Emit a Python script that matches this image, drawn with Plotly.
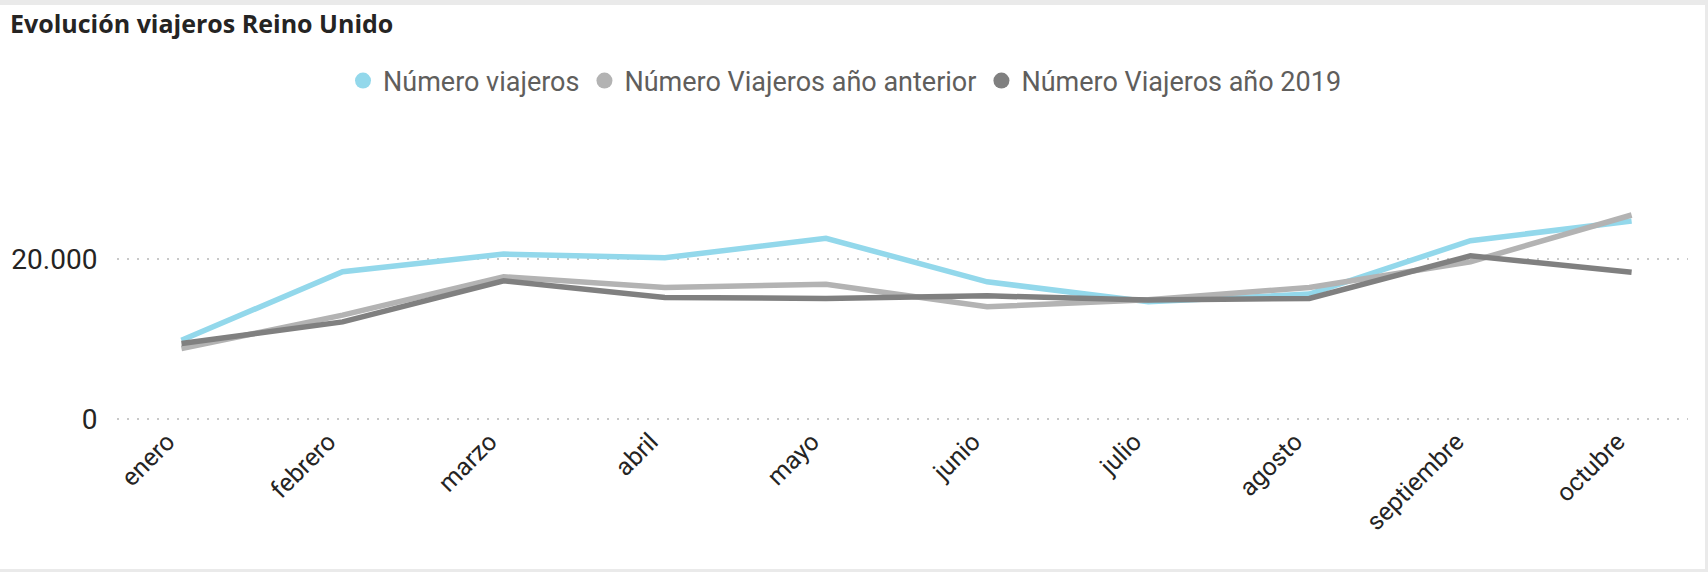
import plotly.graph_objects as go

months = ["enero", "febrero", "marzo", "abril", "mayo", "junio",
          "julio", "agosto", "septiembre", "octubre"]
viajeros = [9850, 18400, 20620, 20160, 22590, 17150, 14650, 15610, 22290, 24750]
viajeros_anterior = [8810, 12980, 17780, 16450, 16840, 14020, 14900, 16450, 19660, 25500]
viajeros_2019 = [9440, 12140, 17280, 15200, 15070, 15400, 14860, 15070, 20390, 18330]

series = [
    ("Número viajeros", viajeros, "#93D8EB"),
    ("Número Viajeros año anterior", viajeros_anterior, "#B3B3B3"),
    ("Número Viajeros año 2019", viajeros_2019, "#808080"),
]

W, H = 1708, 572
L, R, T, B = 117, 20, 181, 151

fig = go.Figure()
for name, vals, color in series:
    fig.add_trace(go.Scatter(
        x=months, y=vals, mode="lines", name=name,
        line=dict(color=color, width=5.5), showlegend=False,
    ))
# legend entries shown as circles
for name, vals, color in series:
    fig.add_trace(go.Scatter(
        x=[None], y=[None], mode="markers", name=name,
        marker=dict(color=color, size=18, symbol="circle"),
    ))

pw = W - L - R
ph = H - T - B
def px_x(p):
    return (p - L) / pw
def px_y(p):
    return (H - B - p) / ph

frame = "#EAEAEA"
shapes = [
    dict(type="rect", xref="paper", yref="paper", x0=px_x(0), x1=px_x(W),
         y0=px_y(5), y1=px_y(0), fillcolor=frame, line_width=0, layer="below"),
    dict(type="rect", xref="paper", yref="paper", x0=px_x(1705), x1=px_x(W),
         y0=px_y(H), y1=px_y(0), fillcolor=frame, line_width=0, layer="below"),
    dict(type="rect", xref="paper", yref="paper", x0=px_x(0), x1=px_x(W),
         y0=px_y(H), y1=px_y(569), fillcolor=frame, line_width=0, layer="below"),
]

fig.update_layout(
    width=W, height=H,
    margin=dict(l=L, r=R, t=T, b=B, pad=0, autoexpand=False),
    paper_bgcolor="white", plot_bgcolor="white",
    separators=",.",
    title=dict(text="<b>Evolución viajeros Reino Unido</b>",
               x=10 / W, xanchor="left", y=1 - 24 / H, yanchor="middle",
               font=dict(family="Open Sans", size=25, color="#252423")),
    legend=dict(orientation="h", x=px_x(845), xanchor="center",
                y=px_y(81), yanchor="middle",
                font=dict(family="Roboto", size=27, color="#605E5C"),
                itemwidth=30, tracegroupgap=0, bgcolor="rgba(0,0,0,0)"),
    shapes=shapes,
    xaxis=dict(range=[-0.40, 9.35], showgrid=False, zeroline=False,
               showline=False, tickangle=-45, automargin=False,
               tickfont=dict(family="Roboto", size=25, color="#252423"),
               ticks="", ticklabelshift=-14, fixedrange=True),
    yaxis=dict(range=[-250, 29750], tickvals=[0, 20000], tickformat=",d",
               showgrid=True, gridcolor="#C8C8C8", gridwidth=2,
               griddash="2px,8px", zeroline=False, showline=False,
               automargin=False,
               tickfont=dict(family="Roboto", size=28, color="#252423"),
               ticks="outside", ticklen=13, tickcolor="rgba(0,0,0,0)"),
)

fig.write_html("out.html", config={"displayModeBar": False},
               post_script="document.body.style.margin='0';")
